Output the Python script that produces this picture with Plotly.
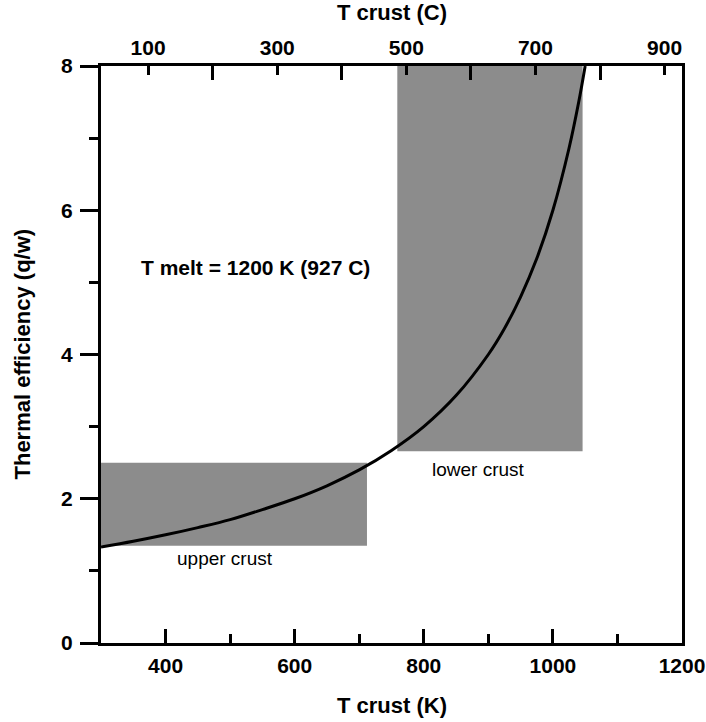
import plotly.graph_objects as go

# Curve: T crust (K) vs thermal efficiency (q/w)
t_crust_k = [300, 350, 400, 450, 500, 550, 600, 650, 700, 750, 800, 850,
             900, 925, 950, 975, 1000, 1025, 1040, 1050]
efficiency = [1.33, 1.41, 1.50, 1.60, 1.71, 1.85, 2.00, 2.18, 2.40, 2.67,
              3.00, 3.43, 4.00, 4.36, 4.80, 5.33, 6.00, 6.86, 7.50, 8.00]

# Shaded crust ranges: [x0, x1, y0, y1]
crust_names = ["upper crust", "lower crust"]
crust_x0 = [300, 759]
crust_x1 = [712, 1046]
crust_y0 = [1.35, 2.66]
crust_y1 = [2.50, 8.0]
crust_label_x = [492, 884]
crust_label_y = [1.17, 2.40]

# Axes ticks
bottom_ticks = [400, 600, 800, 1000, 1200]
bottom_minor = [500, 700, 900, 1100]
left_ticks = [0, 2, 4, 6, 8]
left_minor = [1, 3, 5, 7]
top_labels_c = [100, 300, 500, 700, 900]
top_ticks_k = [c + 273 for c in top_labels_c]
top_minor_c = [200, 400, 600, 800]
top_minor_k = [c + 273 for c in top_minor_c]

FONT = "Liberation Sans, Arial, sans-serif"
GRAY = "#8c8c8c"

fig = go.Figure()

for i in range(len(crust_names)):
    fig.add_shape(type="rect", xref="x", yref="y",
                  x0=crust_x0[i], x1=crust_x1[i], y0=crust_y0[i], y1=crust_y1[i],
                  fillcolor=GRAY, line=dict(width=0), layer="below")
    fig.add_annotation(x=crust_label_x[i], y=crust_label_y[i], text=crust_names[i],
                       showarrow=False, font=dict(family=FONT, size=19, color="black"))

fig.add_trace(go.Scatter(x=t_crust_k, y=efficiency, mode="lines",
                         line=dict(color="black", width=3, shape="spline"),
                         showlegend=False, hoverinfo="skip", cliponaxis=True))
# invisible trace to activate top axis
fig.add_trace(go.Scatter(x=[300, 1200], y=[0, 0], xaxis="x2", mode="markers",
                         marker=dict(opacity=0), showlegend=False, hoverinfo="skip"))

fig.add_annotation(x=539, y=5.2, text="T melt = 1200 K (927 C)", showarrow=False,
                   font=dict(family=FONT, size=21, color="black", weight="bold"))

tickfont = dict(family=FONT, size=21, color="black", weight="bold")

fig.update_layout(
    width=706, height=722,
    margin=dict(l=101, r=24, t=66, b=79),
    plot_bgcolor="white", paper_bgcolor="white",
    xaxis=dict(range=[300, 1200], showgrid=False, zeroline=False, automargin=False,
               showline=True, linecolor="black", linewidth=3, mirror=True,
               tickmode="array", tickvals=bottom_ticks, ticks="inside",
               ticklen=14, tickwidth=2.5, tickcolor="black", tickfont=tickfont,
               ticklabelstandoff=2,
               minor=dict(tickmode="array", tickvals=bottom_minor, ticks="inside",
                          ticklen=9, tickwidth=2.5, tickcolor="black", showgrid=False)),
    xaxis2=dict(range=[300, 1200], overlaying="x", side="top", anchor="y", automargin=False,
                showgrid=False, zeroline=False, showline=True, linecolor="black", linewidth=3,
                tickmode="array", tickvals=top_ticks_k, ticktext=[str(c) for c in top_labels_c],
                ticks="inside", ticklen=9, tickwidth=2.5, tickcolor="black", tickfont=tickfont,
                minor=dict(tickmode="array", tickvals=top_minor_k, ticks="inside",
                           ticklen=14, tickwidth=2.5, tickcolor="black", showgrid=False)),
    yaxis=dict(range=[0, 8], showgrid=False, zeroline=False, automargin=False,
               showline=True, linecolor="black", linewidth=3, mirror=True,
               tickmode="array", tickvals=left_ticks, ticks="outside",
               ticklen=18, tickwidth=2.5, tickcolor="black", tickfont=tickfont,
               ticklabelstandoff=3,
               minor=dict(tickmode="array", tickvals=left_minor, ticks="outside",
                          ticklen=9, tickwidth=2.5, tickcolor="black", showgrid=False)),
)

titlefont = dict(family=FONT, size=22, color="black", weight="bold")
fig.add_annotation(xref="paper", yref="paper", x=0.5, y=0, yshift=-62, yanchor="middle",
                   text="T crust (K)", showarrow=False, font=titlefont)
fig.add_annotation(xref="paper", yref="paper", x=0.5, y=1, yshift=54, yanchor="middle",
                   text="T crust (C)", showarrow=False, font=titlefont)
fig.add_annotation(xref="paper", yref="paper", x=0, xshift=-79, y=0.5, textangle=-90,
                   xanchor="center", yanchor="middle",
                   text="Thermal efficiency (q/w)", showarrow=False,
                   font=dict(family=FONT, size=22, color="black", weight="bold"))

fig.write_html("out.html", config={"displayModeBar": False},
               post_script="document.body.style.margin='0';")
